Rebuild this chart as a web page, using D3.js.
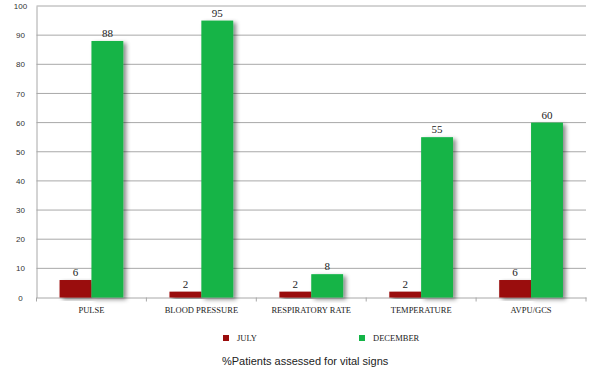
<!DOCTYPE html>
<html>
<head>
<meta charset="utf-8">
<script src="https://cdn.jsdelivr.net/npm/d3@7"></script>
<style>
  body { margin: 0; background: #fff; }
  svg { display: block; }
</style>
</head>
<body>
<svg id="chart" width="597" height="374"></svg>
<script>
// data
var categories = ["PULSE", "BLOOD PRESSURE", "RESPIRATORY RATE", "TEMPERATURE", "AVPU/GCS"];
var seriesNames = ["JULY", "DECEMBER"];
var july = [6, 2, 2, 2, 6];
var december = [88, 95, 8, 55, 60];
var yTicks = [0, 10, 20, 30, 40, 50, 60, 70, 80, 90, 100];

var colors = { "JULY": "#9a0c0c", "DECEMBER": "#13b446" };

var svg = d3.select("#chart");
var margin = { left: 36.5, right: 11, top: 6, bottom: 76.5 };
var width = 597 - margin.left - margin.right;
var height = 374 - margin.top - margin.bottom;

// shadow filter for bars
var defs = svg.append("defs");
var f = defs.append("filter").attr("id", "shadow")
    .attr("x", "-20%").attr("y", "-10%").attr("width", "160%").attr("height", "130%");
f.append("feDropShadow")
    .attr("dx", 3).attr("dy", 2).attr("stdDeviation", 2.2)
    .attr("flood-color", "#000").attr("flood-opacity", 0.45);

var g = svg.append("g").attr("transform", `translate(${margin.left},${margin.top})`);

var x0 = d3.scaleBand().domain(categories).range([0, width]).paddingInner(0).paddingOuter(0);
var x1 = d3.scaleBand().domain(seriesNames).range([x0.bandwidth() * 0.21, x0.bandwidth() * 0.79]);
var y = d3.scaleLinear().domain([0, 100]).range([height, 0]);

// grid lines
g.append("g").selectAll("line")
    .data(yTicks.filter(d => d > 0))
    .enter().append("line")
    .attr("x1", 0).attr("x2", width)
    .attr("y1", d => y(d)).attr("y2", d => y(d))
    .attr("stroke", "#a8a8a8").attr("stroke-width", 1);

// y axis
var yAxis = g.append("g")
    .call(d3.axisLeft(y).tickValues(yTicks).tickSize(0).tickPadding(0));
yAxis.select(".domain").attr("stroke", "#a8a8a8");
yAxis.selectAll("text")
    .attr("x", -16)
    .attr("text-anchor", "middle")
    .style("font-family", "'Liberation Sans', Arial, sans-serif")
    .style("font-size", "8px")
    .attr("fill", "#333");

// x axis
var xAxis = g.append("g").attr("transform", `translate(0,${height})`)
    .call(d3.axisBottom(x0).tickSize(0).tickPadding(9));
xAxis.select(".domain").attr("stroke", "#a8a8a8");
xAxis.selectAll("text")
    .style("font-family", "'Liberation Serif', 'Times New Roman', serif")
    .style("font-size", "8.5px")
    .attr("fill", "#222");
// boundary ticks
xAxis.append("g").selectAll("line")
    .data(categories.concat(["_end"]))
    .enter().append("line")
    .attr("x1", (d, i) => i * x0.step()).attr("x2", (d, i) => i * x0.step())
    .attr("y1", 0).attr("y2", 4)
    .attr("stroke", "#a8a8a8");

// bars
var rows = categories.map((c, i) => ({ cat: c, values: [
    { name: "JULY", value: july[i] },
    { name: "DECEMBER", value: december[i] }
] }));

var groups = g.append("g").selectAll("g")
    .data(rows)
    .enter().append("g")
    .attr("transform", d => `translate(${x0(d.cat)},0)`);

groups.selectAll("rect")
    .data(d => d.values)
    .enter().append("rect")
    .attr("x", d => x1(d.name))
    .attr("width", x1.bandwidth())
    .attr("y", d => y(d.value))
    .attr("height", d => height - y(d.value))
    .attr("fill", d => colors[d.name])
    .attr("filter", "url(#shadow)");

groups.selectAll("text")
    .data(d => d.values)
    .enter().append("text")
    .attr("x", d => x1(d.name) + x1.bandwidth() / 2)
    .attr("y", d => y(d.value) - 4)
    .attr("text-anchor", "middle")
    .style("font-family", "'Liberation Serif', 'Times New Roman', serif")
    .style("font-size", "11px")
    .attr("fill", "#222")
    .text(d => d.value);

// legend
var legendX = [223, 359];
var legend = svg.append("g").selectAll("g")
    .data(seriesNames)
    .enter().append("g")
    .attr("transform", (d, i) => `translate(${legendX[i]},335)`);
legend.append("rect")
    .attr("width", 6).attr("height", 6)
    .attr("fill", d => colors[d]);
legend.append("text")
    .attr("x", 14).attr("y", 6)
    .style("font-family", "'Liberation Serif', 'Times New Roman', serif")
    .style("font-size", "8.5px")
    .attr("fill", "#222")
    .text(d => d);

// title
svg.append("text")
    .attr("x", 222).attr("y", 365)
    .style("font-family", "'Liberation Sans', Arial, sans-serif")
    .style("font-size", "11px")
    .attr("fill", "#222")
    .text("%Patients assessed for vital signs");
</script>
</body>
</html>
